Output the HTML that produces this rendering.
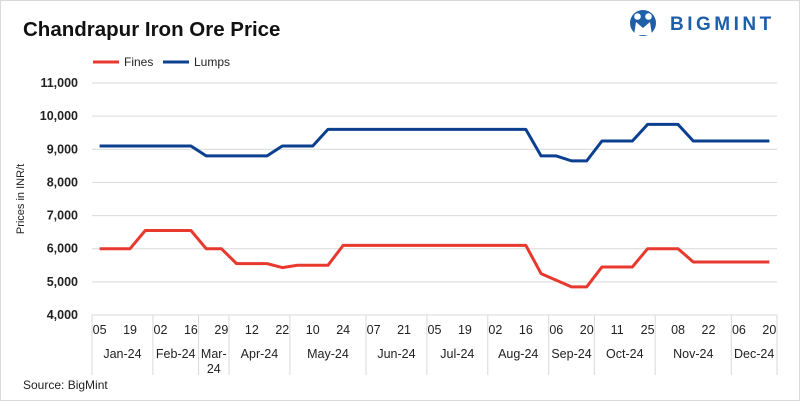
<!DOCTYPE html>
<html><head><meta charset="utf-8"><style>
body{margin:0;background:#fff;}
#wrap{position:relative;width:798px;height:399px;border:1px solid #d9d9d9;background:#fff;font-family:"Liberation Sans",sans-serif;}
svg{position:absolute;left:0;top:0;}
</style></head><body>
<div id="wrap">
<svg id="chart" width="800" height="401">
<text x="22" y="35" font-size="20.5" font-weight="bold" fill="#111">Chandrapur Iron Ore Price</text>
<g>
<circle cx="642" cy="22" r="13" fill="#1f5fa8"/>
<circle cx="636.5" cy="15.5" r="3.3" fill="#fff"/><circle cx="647.5" cy="15.5" r="3.3" fill="#fff"/>
<path d="M633 34 L635 21 L642 27 L649 21 L651 34 Z" fill="#fff"/>
<text x="669" y="29" font-size="19" font-weight="bold" fill="#1f5fa8" letter-spacing="3.5">BIGMINT</text>
</g>
<g>
<line x1="92" y1="61" x2="118" y2="61" stroke="#e8392f" stroke-width="3"/>
<text x="123" y="65" font-size="12" fill="#222">Fines</text>
<line x1="162" y1="61" x2="188" y2="61" stroke="#0b3f8f" stroke-width="3"/>
<text x="193" y="65" font-size="12" fill="#222">Lumps</text>
</g>
<text transform="translate(23,198) rotate(-90)" text-anchor="middle" font-size="11" fill="#222">Prices in INR/t</text>
<text x="22" y="388" font-size="12" fill="#222">Source: BigMint</text>
<g id="grid"></g><g id="xaxis"></g><g id="series"></g>
</svg>
</div>
<script>
const dayLabels=["05","19","02","16","29","12","22","10","24","07","21","05","19","02","16","06","20","11","25","08","22","06","20"];
const months=["Jan-24","Feb-24","Mar-24","Apr-24","May-24","Jun-24","Jul-24","Aug-24","Sep-24","Oct-24","Nov-24","Dec-24"];
const monthCounts=[4,3,2,4,5,4,4,4,3,4,5,3];
const yTicks=[4000,5000,6000,7000,8000,9000,10000,11000];
const fines=[6000,6000,6000,6550,6550,6550,6550,6000,6000,5550,5550,5550,5430,5500,5500,5500,6100,6100,6100,6100,6100,6100,6100,6100,6100,6100,6100,6100,6100,5250,5050,4850,4850,5450,5450,5450,6000,6000,6000,5600,5600,5600,5600,5600,5600];
const lumps=[9100,9100,9100,9100,9100,9100,9100,8800,8800,8800,8800,8800,9100,9100,9100,9600,9600,9600,9600,9600,9600,9600,9600,9600,9600,9600,9600,9600,9600,8800,8800,8650,8650,9250,9250,9250,9750,9750,9750,9250,9250,9250,9250,9250,9250];
const NS="http://www.w3.org/2000/svg";
const L=91,R=776,T=82,B=314,yMin=4000,yMax=11000;
const n=fines.length,band=(R-L)/n;
const xS=i=>L+band*(i+0.5);
const yS=v=>B-(v-yMin)/(yMax-yMin)*(B-T);
function mk(tag,attrs,parent){const e=document.createElementNS(NS,tag);for(const k in attrs)e.setAttribute(k,attrs[k]);parent.appendChild(e);return e;}
const grid=document.getElementById('grid'),xa=document.getElementById('xaxis'),ser=document.getElementById('series');
yTicks.forEach(v=>{
 if(v>yMin){const g=mk('line',{x1:L,x2:R,y1:yS(v),y2:yS(v),stroke:'#d9d9d9','stroke-width':1},grid);
 
 }
 const t=mk('text',{x:77,y:yS(v)+4,'text-anchor':'end','font-size':12.5,'font-weight':'bold',fill:'#222'},grid);
 t.textContent=v.toLocaleString('en-US');
 
 
});
const ax=mk('line',{x1:L,x2:R,y1:B,y2:B,stroke:'#d9d9d9'},xa);


dayLabels.forEach((d,k)=>{const t=mk('text',{x:xS(k*2),y:333,'text-anchor':'middle','font-size':12.5,fill:'#222'},xa);t.textContent=d;
 
 });
let start=0;
const sep=x=>{const l=mk('line',{x1:x,x2:x,y1:B,y2:374,stroke:'#d9d9d9'},xa);
 
 };
sep(L);
months.forEach((m,k)=>{const c=monthCounts[k];const x0=L+band*start,x1=L+band*(start+c);
 sep(x1);
 const cx=(x0+x1)/2;
 const t=mk('text',{x:cx,y:357,'text-anchor':'middle','font-size':12.5,fill:'#222'},xa);
 
 
 if(c<=2&&m.length>5){const p=m.split('-');t.textContent=p[0]+'-';const t2=mk('text',{x:cx,y:372,'text-anchor':'middle','font-size':12.5,fill:'#222'},xa);t2.textContent=p[1];
  
  }
 else t.textContent=m;
 start+=c;});
function line(data,color,name){const p=mk('polyline',{points:data.map((v,i)=>xS(i)+','+yS(v)).join(' '),fill:'none',stroke:color,'stroke-width':3,'stroke-linejoin':'round'},ser);
 
 }
line(fines,'#e8392f','fines-line');
line(lumps,'#0b3f8f','lumps-line');
</script>
</body></html>
